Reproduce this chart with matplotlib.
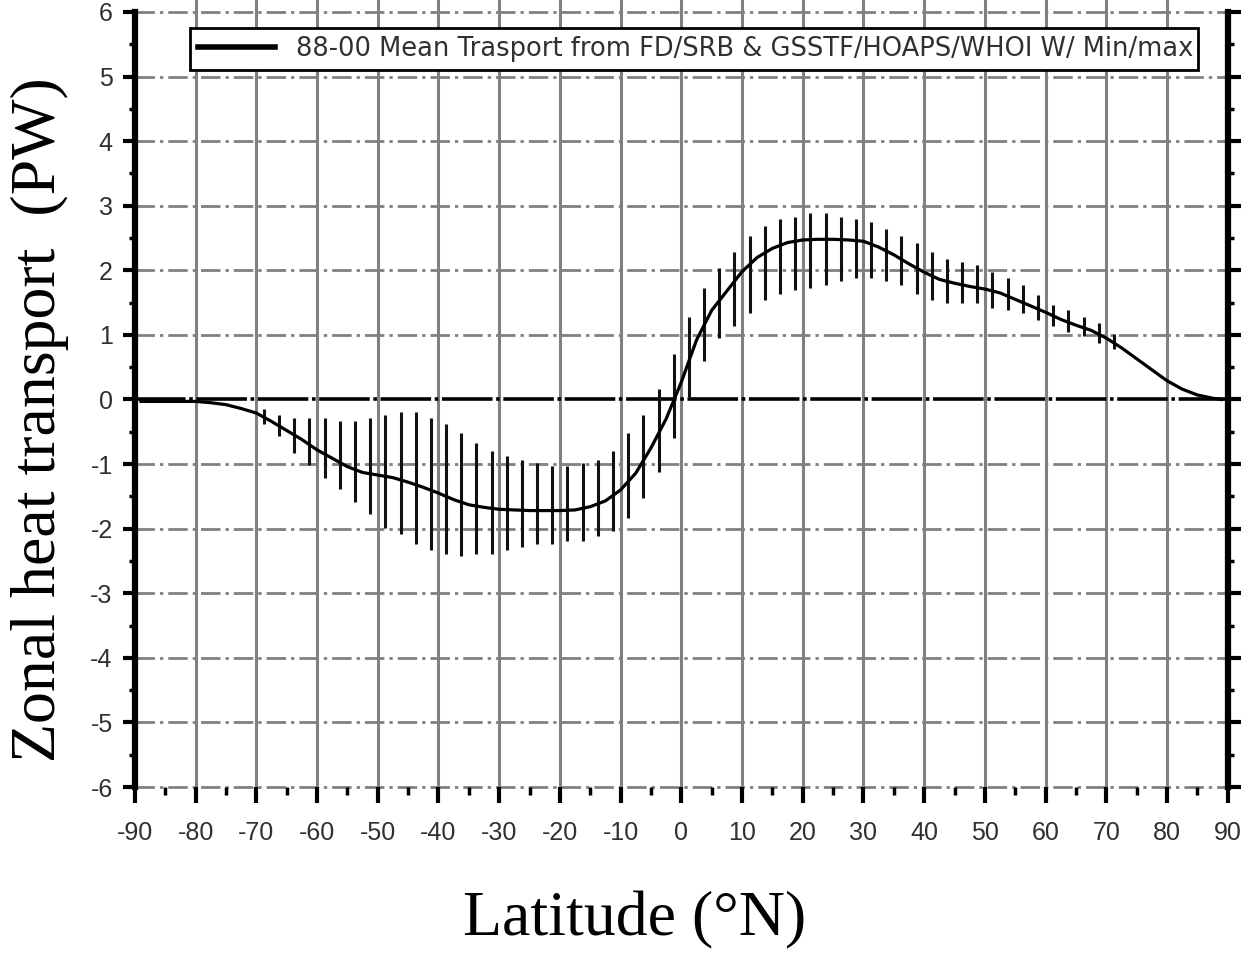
import matplotlib.pyplot as plt
from matplotlib.ticker import MultipleLocator

plt.rcParams['axes.unicode_minus'] = False

# mean transport curve (PW)
lat = [-89, -85, -80, -77.5, -75, -72.5, -70, -67.5, -65, -62.5, -60, -57.5, -55,
       -52.5, -50, -47.5, -45, -42.5, -40, -37.5, -35, -32.5, -30, -27.5, -25,
       -22.5, -20, -17.5, -15, -12.5, -10, -7.5, -5, -2.5, 0, 2.5, 5, 7.5, 10,
       12.5, 15, 17.5, 20, 22.5, 25, 27.5, 30, 32.5, 35, 37.5, 40, 42.5, 45,
       47.5, 50, 52.5, 55, 57.5, 60, 62.5, 65, 67.5, 70, 72.5, 75, 77.5, 80,
       82.5, 85, 87.5, 89]
mean = [-0.03, -0.03, -0.03, -0.05, -0.08, -0.14, -0.21, -0.34, -0.48, -0.62,
        -0.78, -0.91, -1.04, -1.13, -1.17, -1.21, -1.28, -1.36, -1.45, -1.55,
        -1.63, -1.67, -1.70, -1.71, -1.72, -1.72, -1.72, -1.71, -1.66, -1.57,
        -1.40, -1.14, -0.75, -0.30, 0.27, 0.92, 1.38, 1.68, 1.98, 2.20, 2.34,
        2.43, 2.47, 2.48, 2.48, 2.47, 2.45, 2.36, 2.24, 2.10, 1.97, 1.86, 1.80,
        1.75, 1.71, 1.65, 1.55, 1.45, 1.35, 1.24, 1.15, 1.07, 0.95, 0.80, 0.63,
        0.46, 0.29, 0.16, 0.07, 0.02, 0.0]

# min/max bars
bar_lat = [-68.75, -66.25, -63.75, -61.25, -58.75, -56.25, -53.75, -51.25,
           -48.75, -46.25, -43.75, -41.25, -38.75, -36.25, -33.75, -31.25,
           -28.75, -26.25, -23.75, -21.25, -18.75, -16.25, -13.75, -11.25,
           -8.75, -6.25, -3.75, -1.25, 1.25, 3.75, 6.25, 8.75, 11.25, 13.75,
           16.25, 18.75, 21.25, 23.75, 26.25, 28.75, 31.25, 33.75, 36.25,
           38.75, 41.25, 43.75, 46.25, 48.75, 51.25, 53.75, 56.25, 58.75,
           61.25, 63.75, 66.25, 68.75, 71.25]
bar_min = [-0.38, -0.57, -0.83, -1.02, -1.22, -1.38, -1.58, -1.77, -1.99, -2.08,
           -2.24, -2.33, -2.39, -2.43, -2.39, -2.39, -2.33, -2.28, -2.24, -2.24,
           -2.19, -2.19, -2.12, -2.03, -1.83, -1.52, -1.13, -0.59, 0.04, 0.59,
           0.95, 1.14, 1.34, 1.54, 1.63, 1.69, 1.73, 1.78, 1.84, 1.88, 1.88,
           1.84, 1.78, 1.63, 1.54, 1.49, 1.49, 1.49, 1.42, 1.38, 1.34, 1.23,
           1.14, 1.04, 0.99, 0.88, 0.78]
bar_max = [-0.14, -0.24, -0.28, -0.28, -0.28, -0.33, -0.33, -0.28, -0.24, -0.19,
           -0.19, -0.28, -0.38, -0.52, -0.67, -0.79, -0.88, -0.94, -0.98, -1.03,
           -1.03, -0.98, -0.94, -0.79, -0.52, -0.24, 0.16, 0.71, 1.27, 1.73,
           2.04, 2.28, 2.53, 2.68, 2.79, 2.83, 2.88, 2.88, 2.83, 2.79, 2.75,
           2.64, 2.53, 2.43, 2.28, 2.18, 2.13, 2.08, 1.97, 1.88, 1.78, 1.62,
           1.47, 1.38, 1.27, 1.18, 1.02]

fig = plt.figure(figsize=(12.49, 9.66), dpi=100)
ax = fig.add_axes([0.108, 0.1853, 0.875, 0.8023])

ax.set_xlim(-90, 90)
ax.set_ylim(-6, 6)

# grid
for x in range(-80, 90, 10):
    ax.axvline(x, ymax=1.015, color='#808080', lw=2.2, zorder=1, clip_on=False)
for y in range(-6, 7):
    if y == 0:
        continue
    ax.axhline(y, color='#808080', lw=2.0, ls=(0, (7, 1.8, 1.2, 1.8)), zorder=1, clip_on=False)
ax.axhline(0, color='black', lw=2.6, ls=(0, (14, 1, 1, 1)), zorder=2)

ax.vlines(bar_lat, bar_min, bar_max, color='#111111', lw=2.2, zorder=3)
line, = ax.plot(lat, mean, color='black', lw=2.3, zorder=4,
                label='88-00 Mean Trasport from FD/SRB & GSSTF/HOAPS/WHOI W/ Min/max')

for s in ['top', 'bottom']:
    ax.spines[s].set_visible(False)
for s in ['left', 'right']:
    ax.spines[s].set_linewidth(4.5)
    ax.spines[s].set_zorder(5)

ax.xaxis.set_major_locator(MultipleLocator(10))
ax.xaxis.set_minor_locator(MultipleLocator(5))
ax.yaxis.set_major_locator(MultipleLocator(1))
ax.yaxis.set_minor_locator(MultipleLocator(0.5))
ax.tick_params(axis='x', which='major', direction='out', length=11.5, width=3,
               labelsize=18, pad=13, labelcolor='#303030')
ax.tick_params(axis='x', which='minor', direction='out', length=6, width=2.5)
ax.tick_params(axis='y', which='major', direction='out', length=9, width=3,
               labelsize=18, pad=7, labelcolor='#303030', right=True)
ax.tick_params(axis='y', which='minor', direction='out', length=4, width=2.5, right=True)
for t in ax.get_xticklabels() + ax.get_yticklabels():
    t.set_fontfamily('Liberation Sans')

ax.set_xlabel('Latitude (°N)', fontsize=46, family='Liberation Serif')
ax.xaxis.set_label_coords(0.457, -0.135)
ax.set_ylabel('Zonal heat transport  (PW)', fontsize=46, family='Liberation Serif')
ax.yaxis.set_label_coords(-0.06, 0.4735)

leg = ax.legend(handles=[line], loc='upper left', bbox_to_anchor=(0.0503, 0.979, 0.9223, 0.0),
                mode='expand', borderaxespad=0, fancybox=False, framealpha=1,
                edgecolor='black', prop={'family': 'DejaVu Sans', 'size': 18.5},
                handlelength=3.0, handletextpad=0.85, borderpad=0.3)
leg.get_frame().set_linewidth(2)
leg.get_lines()[0].set_linewidth(4)
for t in leg.get_texts():
    t.set_color('#303030')

fig.savefig('out.png', dpi=100)
